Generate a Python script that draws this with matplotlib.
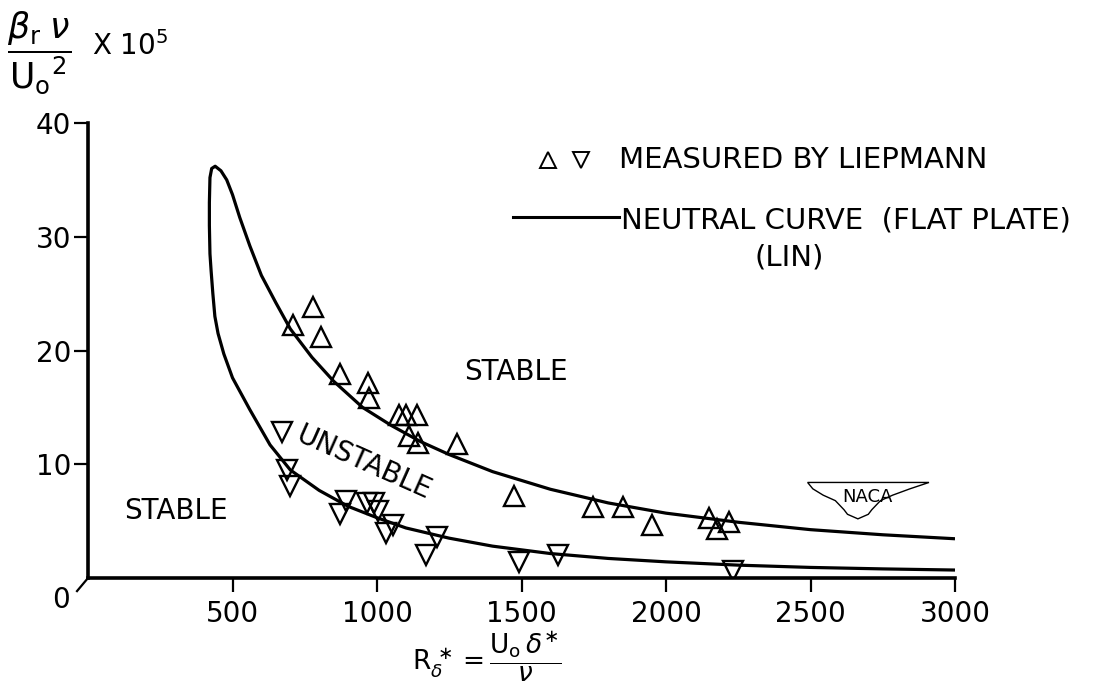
import matplotlib
matplotlib.use("Agg")
import matplotlib.pyplot as plt
from matplotlib.patches import Polygon

# ---------------- data ----------------
# Neutral curve (Lin), traced from the upper branch at R=3000, around the nose,
# and back out along the lower branch to R=3000
curve_R = [3000, 2750, 2500, 2250, 2000, 1800, 1600, 1400, 1250, 1150, 1050, 950,
           850, 775, 700, 650, 600, 560, 525, 500, 480, 460, 440, 428, 422, 420,
           420, 422, 426, 432, 439, 450, 470, 500, 560, 630, 700, 800, 900, 1000,
           1100, 1250, 1400, 1600, 1800, 2000, 2250, 2500, 2750, 3000]
curve_b = [3.45, 3.8, 4.25, 4.9, 5.7, 6.6, 7.8, 9.35, 10.85, 12.0, 13.4, 15.0,
           17.3, 19.4, 21.9, 24.2, 26.6, 29.2, 31.7, 33.7, 35.0, 35.8, 36.2, 36.0, 35.2, 33.0,
           31.0, 28.5, 27.0, 25.0, 23.0, 21.5, 19.7, 17.6, 14.8, 11.7, 9.5, 7.7, 6.3, 5.3,
           4.4, 3.5, 2.8, 2.15, 1.72, 1.42, 1.13, 0.93, 0.8, 0.7]

# Liepmann measurements: upward triangles
up_R = [779, 708, 806, 872, 970, 972, 1075, 1102, 1137, 1112, 1142, 1278,
        1473, 1749, 1852, 1953, 2150, 2175, 2217]
up_b = [23.8, 22.2, 21.2, 17.9, 17.1, 15.8, 14.3, 14.3, 14.3, 12.5, 11.9, 11.8,
        7.2, 6.2, 6.2, 4.7, 5.3, 4.3, 4.9]

# Liepmann measurements: downward triangles
dn_R = [673, 689, 700, 892, 872, 965, 988, 1002, 1055, 1032, 1207, 1170,
        1493, 1628, 2233]
dn_b = [12.8, 9.5, 8.1, 6.8, 5.6, 6.6, 6.6, 5.9, 4.7, 4.0, 3.6, 2.0,
        1.4, 2.0, 0.65]

x_ticks = [500, 1000, 1500, 2000, 2500, 3000]
y_ticks = [10, 20, 30, 40]

# ---------------- figure ----------------
plt.rcParams['font.family'] = ['DejaVu Sans']
plt.rcParams['mathtext.fontset'] = 'dejavusans'

fig = plt.figure(figsize=(11.08, 6.90), dpi=100)
ax = fig.add_axes([88/1108, 112/690, 867/1108, 455/690])

ax.set_xlim(0, 3000)
ax.set_ylim(0, 40)

for s in ['top', 'right']:
    ax.spines[s].set_visible(False)
for s in ['left', 'bottom']:
    ax.spines[s].set_linewidth(2.6)
    ax.spines[s].set_color('black')

ax.set_xticks(x_ticks)
ax.set_xticklabels([str(v) for v in x_ticks])
ax.set_yticks(y_ticks)
ax.set_yticklabels([str(v) for v in y_ticks])
ax.tick_params(axis='both', direction='out', length=10, width=1.6,
               labelsize=20, colors='black')
ax.tick_params(axis='x', pad=6)
ax.tick_params(axis='y', pad=2)

# neutral curve
ax.plot(curve_R, curve_b, color='black', lw=2.3, solid_capstyle='butt',
        solid_joinstyle='round', zorder=2)

# measured points
ax.plot(up_R, up_b, linestyle='none', marker='^', markersize=15,
        markerfacecolor='none', markeredgecolor='black', markeredgewidth=1.7, zorder=3)
ax.plot(dn_R, dn_b, linestyle='none', marker='v', markersize=15,
        markerfacecolor='none', markeredgecolor='black', markeredgewidth=1.7, zorder=3)

# origin label with the little diagonal stroke
ax.plot([0, -38], [0, -1.15], color='black', lw=1.6, clip_on=False)
ax.text(-95, -1.9, '0', fontsize=20, ha='center', va='center', clip_on=False)

# region labels
ax.text(1481, 18.1, 'STABLE', fontsize=20, ha='center', va='center')
ax.text(304, 5.9, 'STABLE', fontsize=20, ha='center', va='center')
ax.text(955, 10.1, 'UNSTABLE', fontsize=20, ha='center', va='center', rotation=-24,
        rotation_mode='anchor')

# legend (hand-placed like the original)
ax.plot([1592], [36.75], linestyle='none', marker='^', markersize=12,
        markerfacecolor='none', markeredgecolor='black', markeredgewidth=1.4, clip_on=False)
ax.plot([1706], [36.75], linestyle='none', marker='v', markersize=12,
        markerfacecolor='none', markeredgecolor='black', markeredgewidth=1.4, clip_on=False)
ax.text(1838, 36.75, 'MEASURED BY LIEPMANN', fontsize=21, ha='left', va='center')
ax.plot([1472, 1838], [31.7, 31.7], color='black', lw=2.2, clip_on=False)
ax.text(1843, 31.4, 'NEUTRAL CURVE  (FLAT PLATE)', fontsize=21, ha='left', va='center')
ax.text(2425, 28.2, '(LIN)', fontsize=21, ha='center', va='center')

# NACA wing emblem
wing = [(0.830, 0.210), (0.970, 0.210), (0.948, 0.196), (0.928, 0.182), (0.914, 0.170),
        (0.904, 0.150), (0.900, 0.140), (0.888, 0.130), (0.876, 0.140), (0.872, 0.150),
        (0.862, 0.170), (0.848, 0.182), (0.836, 0.196)]
ax.add_patch(Polygon(wing, closed=True, transform=ax.transAxes, facecolor='white',
                     edgecolor='black', lw=1.0, zorder=1))
ax.text(0.8995, 0.178, 'NACA', transform=ax.transAxes, fontsize=13, ha='center',
        va='center', zorder=2)

# axis titles
fig.text(7/1108, 1 - 53/690, r'$\dfrac{\beta_{\mathrm{r}}\;\nu}{\mathrm{U_o}^{2}}$',
         fontsize=25, ha='left', va='center')
fig.text(92/1108, 1 - 46/690, r'X 10$^5$', fontsize=20, ha='left', va='center')
fig.text(487/1108, 1 - 657/690,
         r'$\mathrm{R}_{\delta}^{\,\ast}=\dfrac{\mathrm{U_o}\,\delta^{\ast}}{\nu}$',
         fontsize=19, ha='center', va='center')

fig.savefig('out.png', dpi=100)
